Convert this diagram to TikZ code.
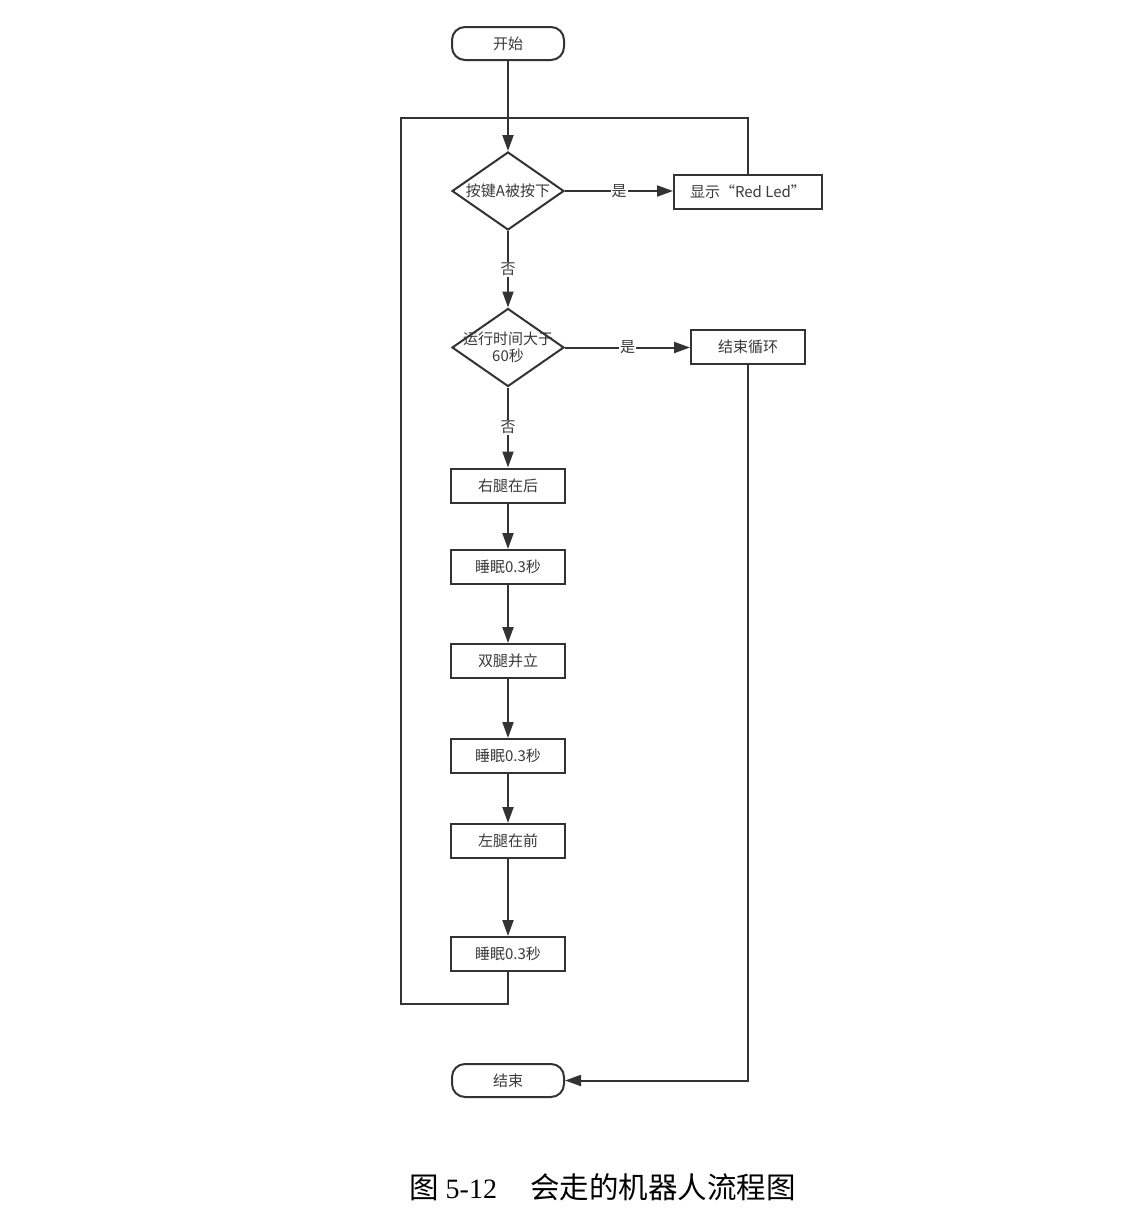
\documentclass[tikz,border=0pt]{standalone}
\usepackage{fontspec}
\setmainfont{Noto Sans CJK SC}
\newfontfamily\capserif{Liberation Serif}
\newfontfamily\capcjk{Noto Sans CJK SC}
\usetikzlibrary{shapes.geometric,arrows.meta}
\definecolor{ln}{HTML}{333333}
\definecolor{tx}{HTML}{3A3A3A}
\begin{document}
\begin{tikzpicture}[x=1pt,y=-1pt,
  every node/.style={font=\fontsize{15}{17}\selectfont, text=tx},
  term/.style={draw=ln, line width=2pt, rounded corners=13pt, minimum width=112pt, minimum height=33pt, inner sep=0pt},
  procbox/.style={draw=ln, line width=2pt, minimum width=114pt, minimum height=34pt, inner sep=0pt},
  decbox/.style={draw=ln, line width=2pt, diamond, minimum width=112pt, minimum height=78pt, inner sep=0pt},
  conn/.style={draw=ln, line width=2pt},
  arr/.style={conn, -{Triangle[length=16pt,width=11pt]}},
  elab/.style={fill=white, inner sep=1pt}
]
\useasboundingbox (0,0) rectangle (1120,1232);
\fill[white] (0,0) rectangle (1120,1232);

\node[term] (start) at (508,43.5) {开始};
\node[decbox, label={[text=tx, font=\fontsize{15}{17}\selectfont]center:按键A被按下}] (d1) at (508,191) {};
\node[procbox, minimum width=148pt] (disp) at (748,191.5) {显示“Red Led”};
\node[decbox, label={[text=tx, align=center, font=\fontsize{15}{17}\selectfont]center:运行时间大于\\60秒}] (d2) at (508,347.5) {};
\node[procbox] (endloop) at (748,347) {结束循环};
\node[procbox] (p1) at (508,485.5) {右腿在后};
\node[procbox] (p2) at (508,567) {睡眠0.3秒};
\node[procbox] (p3) at (508,661) {双腿并立};
\node[procbox] (p4) at (508,756) {睡眠0.3秒};
\node[procbox] (p5) at (508,841) {左腿在前};
\node[procbox] (p6) at (508,954) {睡眠0.3秒};
\node[term] (stop) at (508,1080.5) {结束};

\coordinate (jt) at (508,118);
\coordinate (lb) at (401,1004);

\draw[arr] (start) -- (d1);
\draw[arr] (d1.east) -- node[elab]{是} (d1.east -| disp.west);
\draw[arr] (d1) -- node[elab]{否} (d2);
\draw[arr] (d2.east) -- node[elab]{是} (d2.east -| endloop.west);
\draw[arr] (d2) -- node[elab]{否} (p1);
\draw[arr] (p1) -- (p2);
\draw[arr] (p2) -- (p3);
\draw[arr] (p3) -- (p4);
\draw[arr] (p4) -- (p5);
\draw[arr] (p5) -- (p6);
\draw[conn] (p6.south) |- (lb) |- (jt);
\draw[conn] (disp.north) |- (jt);
\draw[arr] (endloop.south) |- (stop.east);

\node[text=black, font=\fontsize{29.5}{32}\selectfont, anchor=west, inner sep=0pt] (cap) at (409,1187) {\capcjk 图\hspace{7pt}\capserif\fontsize{28}{32}\selectfont 5-12\hspace{33pt}\capcjk\fontsize{29.5}{32}\selectfont 会走的机器人流程图};
\end{tikzpicture}
\end{document}
